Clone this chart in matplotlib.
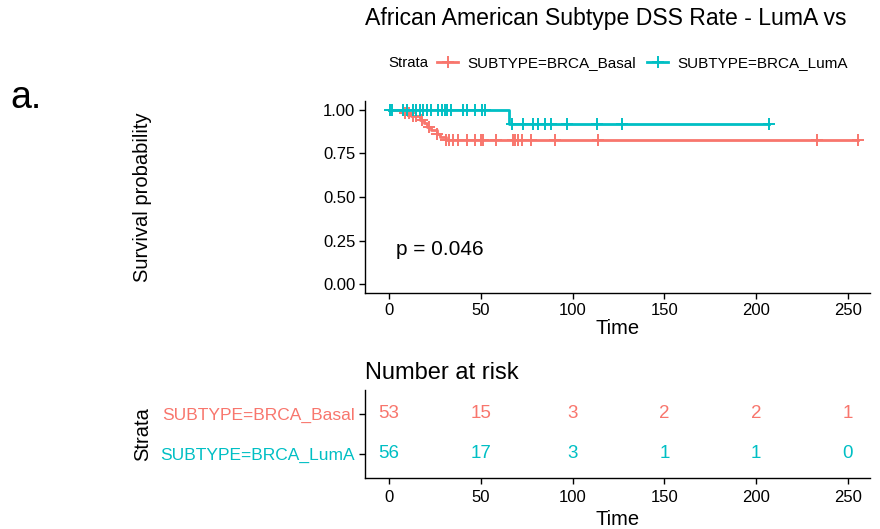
import numpy as np
import matplotlib
matplotlib.use("Agg")
from matplotlib import pyplot as plt
from matplotlib import transforms as mtransforms
from matplotlib.lines import Line2D

plt.rcParams['font.family'] = ['Liberation Sans', 'DejaVu Sans']

# colours (ggplot defaults)
RED = '#F8766D'
CYAN = '#00BFC4'

groups = ['SUBTYPE=BRCA_Basal', 'SUBTYPE=BRCA_LumA']

# Kaplan-Meier steps
basal_t = [0, 8, 12, 17, 19, 21, 23, 26, 28, 31, 255.6]
basal_s = [1.0, 0.981, 0.962, 0.942, 0.922, 0.902, 0.882, 0.862, 0.844, 0.826, 0.826]
basal_cens = [9, 11, 13, 15, 18, 22, 26, 31.0, 32.9, 35.0, 37.8, 42.3, 46.8, 49.9, 51.4,
              58.6, 67.4, 68.6, 70.4, 72.6, 77.2, 90.4, 113.7, 233.3, 255.6]

luma_t = [0, 65.4, 207.1]
luma_s = [1.0, 0.917, 0.917]
luma_cens = [0.5, 1.5, 7.8, 9.6, 13.2, 15.0, 16.9, 18.7, 20.5, 23.2, 26.9, 28.7, 30.5,
             31.8, 34.1, 40.5, 42.3, 46.8, 50.5, 52.3, 66.8, 73.2, 78.3, 81.3, 85.0,
             88.1, 97.1, 113.5, 127.1, 207.1]

risk_times = [0, 50, 100, 150, 200, 250]
basal_risk = [53, 15, 3, 2, 2, 1]
luma_risk = [56, 17, 3, 1, 1, 0]

p_text = 'p = 0.046'
title = 'African American Subtype DSS Rate - LumA vs'

W, H = 880, 529
fig = plt.figure(figsize=(W / 100, H / 100), dpi=100)


def fx(px):
    return px / W


def fy(py):
    return 1 - py / H


def surv_at(t_steps, s_steps, t):
    idx = np.searchsorted(t_steps, t, side='right') - 1
    return np.array(s_steps)[idx]


xlim = (-13, 262)

# main survival plot
ax = fig.add_axes([fx(365), fy(293), fx(870) - fx(365), fy(101) - fy(293)])
for t, s, cens, col in [(basal_t, basal_s, basal_cens, RED), (luma_t, luma_s, luma_cens, CYAN)]:
    ax.step(t, s, where='post', color=col, lw=2.0)
    ax.plot(cens, surv_at(t, s, cens), ls='none', marker='+', ms=8, mew=1.4, color=col)

ax.set_xlim(*xlim)
ax.set_ylim(-0.05, 1.05)
ax.set_xticks(risk_times)
ax.set_yticks([0, 0.25, 0.5, 0.75, 1.0])
ax.set_yticklabels(['0.00', '0.25', '0.50', '0.75', '1.00'])
for s in ['top', 'right']:
    ax.spines[s].set_visible(False)
for s in ['left', 'bottom']:
    ax.spines[s].set_linewidth(1.0)
ax.tick_params(labelsize=12, length=4, width=1.0, colors='black', pad=3)
ax.set_xlabel('Time', fontsize=14.5, labelpad=1)
ax.set_ylabel('Survival probability', fontsize=14.5)
ax.yaxis.set_label_coords(fx(152), 0.5,
                          transform=mtransforms.blended_transform_factory(fig.transFigure, ax.transAxes))
ax.text(4, 0.2, p_text, fontsize=15, va='center', ha='left')

fig.text(fx(365), fy(18), title, fontsize=16.6, va='center', ha='left')
fig.text(fx(10), fy(98), 'a.', fontsize=27, va='center', ha='left')

# legend
fig.text(fx(388), fy(63), 'Strata', fontsize=10.8, va='center', ha='left')
handles = [Line2D([], [], color=c, lw=2.0, marker='+', ms=8, mew=1.4) for c in (RED, CYAN)]
fig.legend(handles, groups, loc='center left', bbox_to_anchor=(fx(437), fy(63)), ncol=2,
           frameon=False, fontsize=11, handlelength=1.4, handletextpad=0.6,
           columnspacing=0.7, borderpad=0, borderaxespad=0)

# risk table
rt = fig.add_axes([fx(365), fy(478), fx(870) - fx(365), fy(390) - fy(478)])
rt.set_xlim(*xlim)
rt.set_ylim(0.4, 2.6)
for i, (vals, col) in enumerate([(basal_risk, RED), (luma_risk, CYAN)]):
    y = 2 - i
    for t, v in zip(risk_times, vals):
        rt.text(t, y, str(v), color=col, fontsize=13.5, ha='center', va='center')
rt.set_yticks([2, 1])
rt.set_yticklabels(groups, fontsize=12.5)
for lab, col in zip(rt.get_yticklabels(), (RED, CYAN)):
    lab.set_color(col)
rt.set_xticks(risk_times)
for s in ['top', 'right']:
    rt.spines[s].set_visible(False)
for s in ['left', 'bottom']:
    rt.spines[s].set_linewidth(1.0)
rt.tick_params(axis='x', labelsize=12, length=4, width=1.0, pad=5)
rt.tick_params(axis='y', length=4, width=1.0, pad=3)
rt.set_xlabel('Time', fontsize=14.5, labelpad=3)
rt.set_ylabel('Strata', fontsize=14.5)
rt.yaxis.set_label_coords(fx(152), 0.5,
                          transform=mtransforms.blended_transform_factory(fig.transFigure, rt.transAxes))
rt.set_title('Number at risk', fontsize=17, loc='left', pad=8)

fig.savefig('out.png', dpi=100)
